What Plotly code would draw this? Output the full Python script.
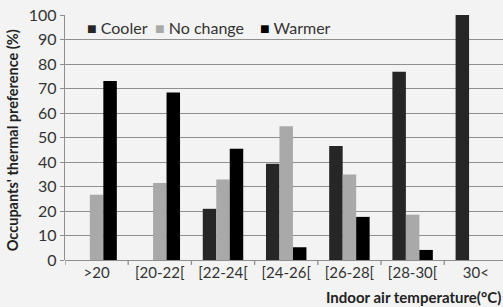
import plotly.graph_objects as go

categories = [">20", "[20-22[", "[22-24[", "[24-26[", "[26-28[", "[28-30[", "30<"]
cooler = [None, None, 20.9, 39.3, 46.5, 76.8, 100]
no_change = [26.6, 31.4, 32.9, 54.6, 34.9, 18.5, None]
warmer = [73.1, 68.4, 45.4, 5.2, 17.6, 4.1, None]
series_names = ["Cooler", "No change", "Warmer"]
series_colors = ["#262626", "#a9a9a9", "#000000"]

x = list(range(len(categories)))
FONT = "Lato, 'Open Sans', sans-serif"
AX = "#8f8f8f"

fig = go.Figure()
for name, vals, col in zip(series_names, [cooler, no_change, warmer], series_colors):
    fig.add_bar(x=x, y=vals, name=name, marker=dict(color=col, line=dict(width=0)))

fig.update_layout(
    width=503, height=307,
    margin=dict(l=65, r=0, t=15, b=47, autoexpand=False),
    paper_bgcolor="#f3f3f3", plot_bgcolor="#f3f3f3",
    barmode="group", bargap=0.36, bargroupgap=0,
    font=dict(family=FONT, size=15, color="#333333"),
    showlegend=False,
    xaxis=dict(
        tickmode="array", tickvals=x, ticktext=categories, automargin=False,
        range=[-0.5, 6.43], showgrid=False, zeroline=False,
        showline=False, ticks="", ticklabelstandoff=2,
        tickfont=dict(size=15, color="#333333"),
    ),
    yaxis=dict(
        range=[0, 100], dtick=10, showgrid=True, gridcolor=AX, gridwidth=1.3,
        zeroline=True, zerolinecolor=AX, zerolinewidth=1.3, automargin=False,
        showline=True, linecolor=AX, linewidth=1.3,
        ticks="outside", ticklen=4, tickcolor=AX,
        tickfont=dict(size=16, color="#333333"),
    ),
)

# tick marks between categories on the x-axis
for b in [i - 0.5 for i in range(len(categories) + 1)]:
    fig.add_shape(type="line", xref="x", yref="paper", x0=b, x1=b, y0=0, y1=-0.02,
                  line=dict(color=AX, width=1.3))

# axis titles
fig.add_annotation(text="<b>Indoor air temperature(°C)</b>", xref="paper", yref="paper",
                   x=1.0, y=-0.151, xanchor="right", yanchor="middle", showarrow=False,
                   font=dict(family=FONT, size=15, color="#222222"))
fig.add_annotation(text="<b>Occupants' thermal preference (%)</b>", xref="paper", yref="paper",
                   x=-0.118, y=0.49, xanchor="center", yanchor="middle", showarrow=False, textangle=-90,
                   font=dict(family=FONT, size=14.5, color="#222222"))

# legend as text with coloured squares
lx = [0.045, 0.2, 0.44]
for name, col, px in zip(series_names, series_colors, lx):
    fig.add_annotation(text=f"<span style='color:{col}'>■</span> {name}", xref="paper", yref="paper",
                       x=px, y=0.95, xanchor="left", yanchor="middle", showarrow=False,
                       font=dict(family=FONT, size=16, color="#333333"))

fig.write_html("out.html", config={"displayModeBar": False},
               post_script="document.body.style.margin='0';document.body.style.overflow='hidden';")
